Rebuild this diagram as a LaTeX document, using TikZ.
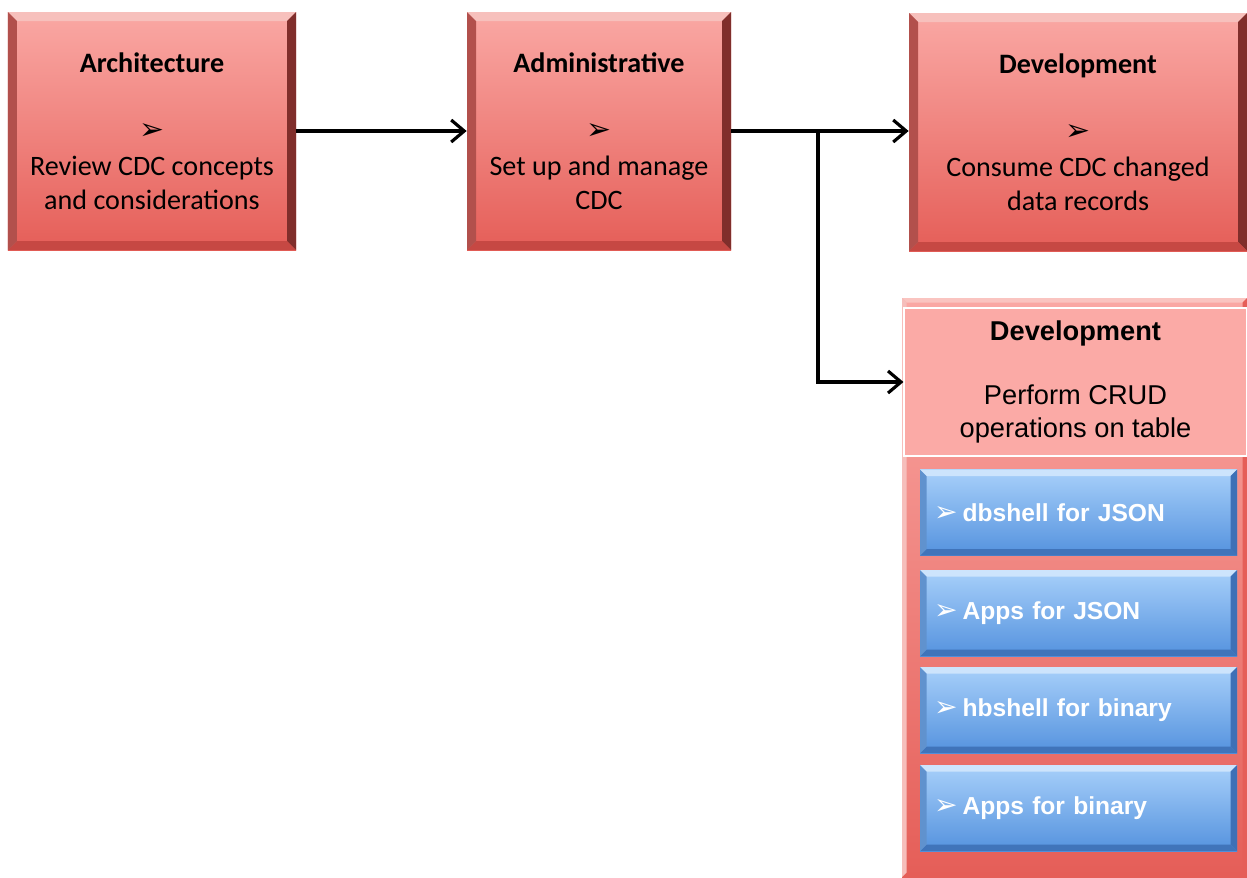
\documentclass[tikz,border=0pt]{standalone}
\usepackage{fontspec}
\setmainfont{Carlito}
\newfontfamily\arialfont{Liberation Sans}
\newfontfamily\symfont{DejaVu Sans}
\usetikzlibrary{calc,arrows.meta}

\definecolor{redtop}{RGB}{250,168,164}
\definecolor{redbot}{RGB}{229,94,88}
\definecolor{redhi}{RGB}{247,192,188}
\definecolor{redlf}{RGB}{178,80,76}
\definecolor{redrt}{RGB}{128,46,43}
\definecolor{redlo}{RGB}{198,72,67}
\definecolor{bluetop}{RGB}{168,208,250}
\definecolor{bluebot}{RGB}{84,146,222}
\definecolor{bluehi}{RGB}{205,228,252}
\definecolor{bluelf}{RGB}{96,146,206}
\definecolor{bluert}{RGB}{62,112,182}
\definecolor{bluelo}{RGB}{64,116,186}
\definecolor{listhi}{RGB}{250,196,192}
\definecolor{listlf}{RGB}{246,190,187}
\definecolor{crudfill}{RGB}{251,170,166}

\begin{document}
\begin{tikzpicture}[
	bevel/.style n args={5}{ path picture={
		\path (path picture bounding box.north west) coordinate (bnw)
		      (path picture bounding box.north east) coordinate (bne)
		      (path picture bounding box.south east) coordinate (bse)
		      (path picture bounding box.south west) coordinate (bsw);
		\fill[#1] (bnw) -- (bne) -- ($(bne)+(-#5,-#5)$) -- ($(bnw)+(#5,-#5)$) -- cycle;
		\fill[#2] (bne) -- (bse) -- ($(bse)+(-#5,#5)$) -- ($(bne)+(-#5,-#5)$) -- cycle;
		\fill[#3] (bse) -- (bsw) -- ($(bsw)+(#5,#5)$) -- ($(bse)+(-#5,#5)$) -- cycle;
		\fill[#4] (bsw) -- (bnw) -- ($(bnw)+(#5,-#5)$) -- ($(bsw)+(#5,#5)$) -- cycle;
	}},
	redbox/.style={ rectangle, inner sep=0pt, minimum height=4.76cm, top color=redtop, bottom color=redbot, align=center, font=\fontsize{16}{19.4}\selectfont, bevel={redhi}{redrt}{redlo}{redlf}{0.18cm} },
	listbox/.style={ rectangle, inner sep=0pt, top color=redtop, bottom color=redbot, bevel={listhi}{redbot}{redbot}{listlf}{0.09cm} },
	crudhead/.style={ rectangle, inner sep=0pt, minimum width=6.86cm, minimum height=2.96cm, fill=crudfill, draw=white, line width=0.6pt, align=center, font=\arialfont\fontsize{15.5}{18.8}\selectfont },
	bluebox/.style={ rectangle, inner xsep=0.28cm, inner ysep=0pt, text width=5.78cm, minimum height=1.72cm, top color=bluetop, bottom color=bluebot, align=left, text=white, font=\arialfont\bfseries\fontsize{14}{17}\selectfont, bevel={bluehi}{bluert}{bluelo}{bluelf}{0.13cm} },
	conn/.style={ line width=1.8pt, -{Straight Barb[length=0.26cm,width=0.44cm]} }
]
\useasboundingbox (0,0) rectangle (24.94,-17.54);

% top row
\node at (3.04,-2.62) (arch) [redbox, minimum width=5.76cm] {\textbf{Architecture}\\[0.66cm]{\symfont\fontsize{17}{17}\selectfont ➢}\\[0.03cm]Review CDC concepts\\and considerations};
\node at (11.98,-2.62) (admin) [redbox, minimum width=5.28cm] {\textbf{Administrative}\\[0.66cm]{\symfont\fontsize{17}{17}\selectfont ➢}\\[0.03cm]Set up and manage\\CDC};
\node at (21.56,-2.64) (devtop) [redbox, minimum width=6.76cm] {\textbf{Development}\\[0.66cm]{\symfont\fontsize{17}{17}\selectfont ➢}\\[0.03cm]Consume CDC changed\\data records};

% CRUD list
\node at (21.49,-11.75) (devbox) [listbox, minimum width=6.9cm, minimum height=11.58cm] {};
\node at (21.51,-7.64) (crud) [crudhead] {\textbf{Development}\\[0.62cm]Perform CRUD\\operations on table};
\foreach \y/\name/\txt in {-10.25/dbjson/dbshell for JSON, -12.26/appjson/Apps for JSON, -14.2/hbbin/hbshell for binary, -16.16/appbin/Apps for binary}
	\node at (21.57,\y) (\name) [bluebox] {{\symfont\fontsize{16}{16}\selectfont ➢}\hspace{0.1cm}\txt};

% connectors
\draw[conn] (arch) -- (admin);
\draw[conn] (admin.east) -- (admin.east -| devtop.west);
\coordinate (split) at (16.36,-2.62);
\draw[conn] (split) |- (crud.west);

\end{tikzpicture}
\end{document}
